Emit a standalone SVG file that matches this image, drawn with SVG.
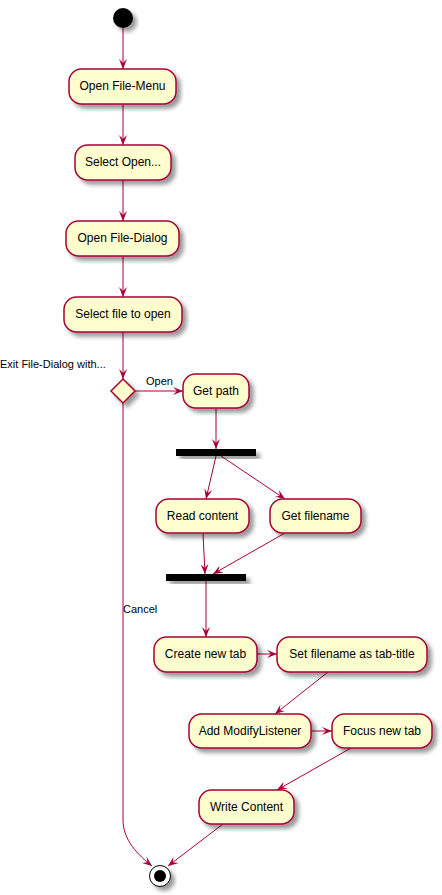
<svg xmlns="http://www.w3.org/2000/svg" width="442" height="895" viewBox="0 0 442 895">
<style>
.act{fill:#FEFECE;stroke:#A80036;stroke-width:1.5;filter:url(#sh)}
.t{font-family:"Liberation Sans",Arial,sans-serif;font-size:12px;fill:#000;text-anchor:middle}
.l{font-family:"Liberation Sans",Arial,sans-serif;font-size:11px;fill:#000}
.c{fill:none;stroke:#A80036;stroke-width:1;marker-end:url(#ah)}
.bar{fill:#000;filter:url(#sh)}
</style>
<defs>
<filter id="sh" x="-20%" y="-20%" width="150%" height="160%">
<feGaussianBlur in="SourceAlpha" stdDeviation="2"/>
<feOffset dx="4" dy="4" result="b"/>
<feComponentTransfer><feFuncA type="linear" slope="0.4"/></feComponentTransfer>
<feMerge><feMergeNode/><feMergeNode in="SourceGraphic"/></feMerge>
</filter>
<marker id="ah" viewBox="0 0 10 8" refX="10" refY="4" markerWidth="10" markerHeight="8" markerUnits="userSpaceOnUse" orient="auto">
<path d="M0,0 L10,4 L0,8 L4,4 Z" fill="#A80036"/>
</marker>
</defs>
<g id="connectors">
<path class="c" d="M123,28 L123,69"/>
<path class="c" d="M123,104 L123,145"/>
<path class="c" d="M123,180 L123,221"/>
<path class="c" d="M123,256 L123,297"/>
<path class="c" d="M123,332 L123,379"/>
<path class="c" d="M135,391 L183,391"/>
<text class="l" x="146" y="385">Open</text>
<path class="c" d="M216,408 L216,449"/>
<path class="c" d="M216,456 L206,499"/>
<path class="c" d="M221,456 L285,499"/>
<path class="c" d="M203,533 L205,574"/>
<path class="c" d="M285,533 L213,574"/>
<path class="c" d="M206,581 L206,637"/>
<path class="c" d="M257,654 L277,654"/>
<path class="c" d="M328,672 L275,714"/>
<path class="c" d="M311,731 L332,731"/>
<path class="c" d="M351,748 L277,790"/>
<path class="c" d="M223,824 L168,866"/>
<path class="c" d="M123,403 L123,820 C123,840 138,855 152,866"/>
<text class="l" x="123" y="613">Cancel</text>
</g>
<g id="start"><circle cx="123" cy="18" r="10" fill="#000" filter="url(#sh)"/></g>
<g id="n1"><rect class="act" x="69" y="69" width="107" height="35" rx="12.5"/><text class="t" x="122.5" y="90">Open File-Menu</text></g>
<g id="n2"><rect class="act" x="75" y="145" width="96" height="35" rx="12.5"/><text class="t" x="123" y="166">Select Open...</text></g>
<g id="n3"><rect class="act" x="66" y="221" width="113" height="35" rx="12.5"/><text class="t" x="122.5" y="242">Open File-Dialog</text></g>
<g id="n4"><rect class="act" x="64" y="297" width="118" height="35" rx="12.5"/><text class="t" x="123" y="318">Select file to open</text></g>
<g id="decision"><polygon class="act" points="123,379 135,391 123,403 111,391"/><text class="l" x="0" y="368">Exit File-Dialog with...</text></g>
<g id="n5"><rect class="act" x="183" y="374" width="66" height="34" rx="12.5"/><text class="t" x="216" y="395">Get path</text></g>
<g id="fork1"><rect class="bar" x="176" y="449" width="80" height="7"/></g>
<g id="n6"><rect class="act" x="156" y="499" width="93" height="34" rx="12.5"/><text class="t" x="202.5" y="520">Read content</text></g>
<g id="n7"><rect class="act" x="270" y="499" width="91" height="34" rx="12.5"/><text class="t" x="315.5" y="520">Get filename</text></g>
<g id="fork2"><rect class="bar" x="166" y="574" width="80" height="7"/></g>
<g id="n8"><rect class="act" x="154" y="637" width="103" height="35" rx="12.5"/><text class="t" x="205.5" y="658">Create new tab</text></g>
<g id="n9"><rect class="act" x="277" y="637" width="150" height="35" rx="12.5"/><text class="t" x="352" y="658">Set filename as tab-title</text></g>
<g id="n10"><rect class="act" x="189" y="714" width="122" height="34" rx="12.5"/><text class="t" x="250" y="735">Add ModifyListener</text></g>
<g id="n11"><rect class="act" x="332" y="714" width="100" height="34" rx="12.5"/><text class="t" x="382" y="735">Focus new tab</text></g>
<g id="n12"><rect class="act" x="199" y="790" width="95" height="34" rx="12.5"/><text class="t" x="246.5" y="811">Write Content</text></g>
<g id="end"><circle cx="160" cy="876" r="10.5" fill="#fff" stroke="#000" stroke-width="1" filter="url(#sh)"/><circle cx="160" cy="876" r="6" fill="#000"/></g>
</svg>
